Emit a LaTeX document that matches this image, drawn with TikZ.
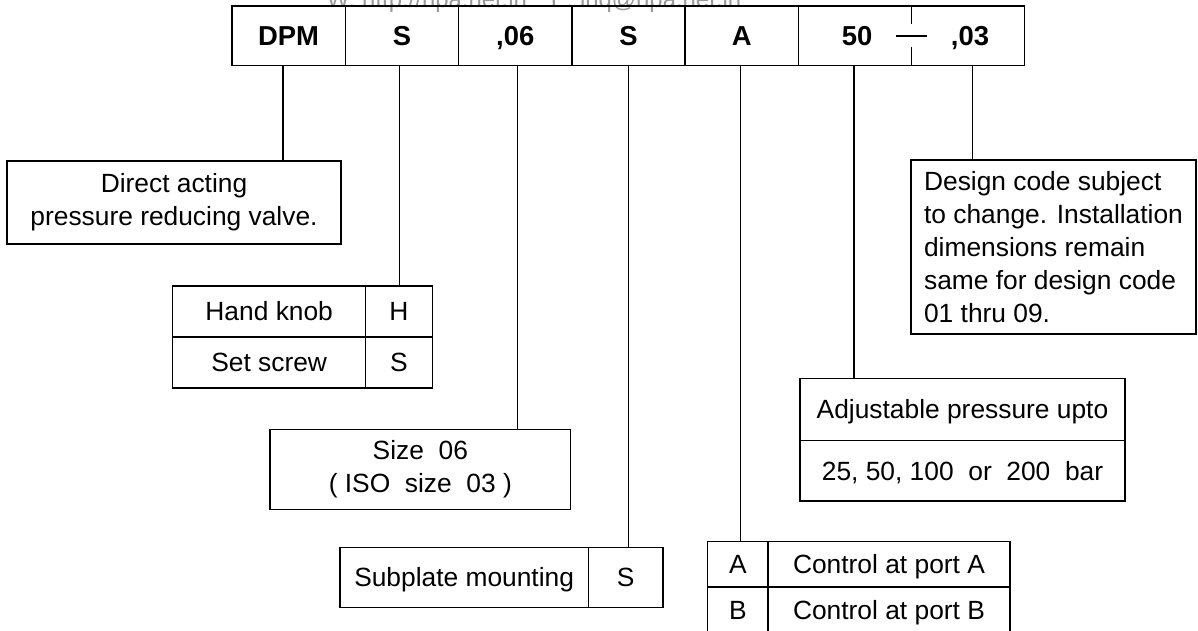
\documentclass[tikz,border=0pt]{standalone}
\usepackage{fontspec}
\setmainfont{Liberation Sans}

\newcommand{\codefont}{\fontsize{15.6}{18}\selectfont\bfseries}
\newcommand{\txtfont}{\fontsize{15}{18.7}\selectfont}
\newcommand{\webfont}{\fontsize{13.6}{16}\selectfont}

\begin{document}
\begin{tikzpicture}[x=0.02cm, y=-0.02cm, line width=0.75pt]
		\tikzset{code/.style = {draw, minimum width=2.266cm, minimum height=1.194cm, inner sep=0pt, font=\codefont, text height=11.2pt, text depth=0pt}}
		\tikzset{codetext/.style = {inner sep=0pt, font=\codefont, text height=11.2pt, text depth=0pt}}
		\tikzset{cell/.style = {draw, inner sep=0pt, font=\txtfont, text height=10.7pt, text depth=0pt}}
		\tikzset{note/.style = {draw, inner sep=0pt, align=center, font=\txtfont}}

		\useasboundingbox (0,0) rectangle (1198,631);

		\node[text=black!40, font=\webfont, anchor=base] (web) at (534,7.5) {W: http://hpa.net.in\quad E: inq@hpa.net.in};

		\node[code] (DPM) at (288.6,35.85) {DPM};
		\node[code] (S_1) at (401.9,35.85) {S};
		\node[code] (C_06) at (515.2,35.85) {,06};
		\node[code] (S_2) at (628.5,35.85) {S};
		\node[code] (A) at (741.8,35.85) {A};
		\node[code, minimum width=4.516cm] (last) at (911.4,35.85) {};
		\node[codetext] (n50) at (857,35.85) {50};
		\node[codetext] (n03) at (970,35.85) {,03};

		\node[note, minimum width=6.68cm, minimum height=1.66cm] (valve) at (174,202.5) {Direct acting\\pressure reducing valve.};

		\node[cell, minimum width=3.86cm, minimum height=1.02cm] (knob) at (269.2,311.5) {Hand knob};
		\node[cell, minimum width=1.332cm, minimum height=1.02cm] (knob_H) at (399,311.5) {H};
		\node[cell, minimum width=3.86cm, minimum height=1.02cm] (screw) at (269.2,362.5) {Set screw};
		\node[cell, minimum width=1.332cm, minimum height=1.02cm] (screw_S) at (399,362.5) {S};

		\node[note, minimum width=6.014cm, minimum height=1.6cm] (size) at (420.35,469.3) {Size~~06\\( ISO~~size~~03 )};

		\node[cell, minimum width=4.966cm, minimum height=1.192cm] (mount) at (464.15,577.5) {Subplate mounting};
		\node[cell, minimum width=1.494cm, minimum height=1.192cm] (mount_S) at (625.65,577.5) {S};

		\node[cell, minimum width=1.206cm, minimum height=0.906cm] (port_A) at (737.85,564.35) {A};
		\node[cell, minimum width=4.84cm, minimum height=0.906cm] (ctrl_A) at (889,564.35) {Control at port A};
		\node[cell, minimum width=1.206cm, minimum height=0.906cm] (port_B) at (737.85,609.65) {B};
		\node[cell, minimum width=4.84cm, minimum height=0.906cm] (ctrl_B) at (889,609.65) {Control at port B};

		\node[cell, minimum width=6.5cm, minimum height=1.248cm] (range) at (962.5,409.5) {Adjustable pressure upto};
		\node[cell, minimum width=6.5cm, minimum height=1.206cm] (range_v) at (962.5,470.85) {25, 50, 100~~or~~200~~bar};

		\node[draw, inner sep=0pt, align=left, font=\txtfont, minimum width=5.7cm, minimum height=3.48cm] (design) at (1053.5,247) {Design code subject\\to change. Installation\\dimensions remain\\same for design code\\01 thru 09.};



		\draw (last.north) -- ++(0,19);
		\draw (last.south) -- ++(0,-19);
		\draw ([xshift=-0.31cm]last.center) -- ++(31,0);

		\draw ([xshift=-0.11cm]DPM.south) -- ([xshift=-0.11cm]DPM.south |- valve.north);
		\draw ([xshift=-0.05cm]S_1.south) -- ([xshift=-0.05cm]S_1.south |- knob_H.north);
		\draw ([xshift=0.04cm]C_06.south) -- ([xshift=0.04cm]C_06.south |- size.north);
		\draw (S_2.south) -- (S_2.south |- mount_S.north);
		\draw ([xshift=-0.03cm]A.south) -- ([xshift=-0.03cm]A.south |- port_A.north);
		\draw ([xshift=-0.06cm]n50 |- last.south) -- ([xshift=-0.06cm]n50 |- range.north);
		\draw ([xshift=0.05cm]n03 |- last.south) -- ([xshift=0.05cm]n03 |- design.north);

	\end{tikzpicture}
\end{document}
